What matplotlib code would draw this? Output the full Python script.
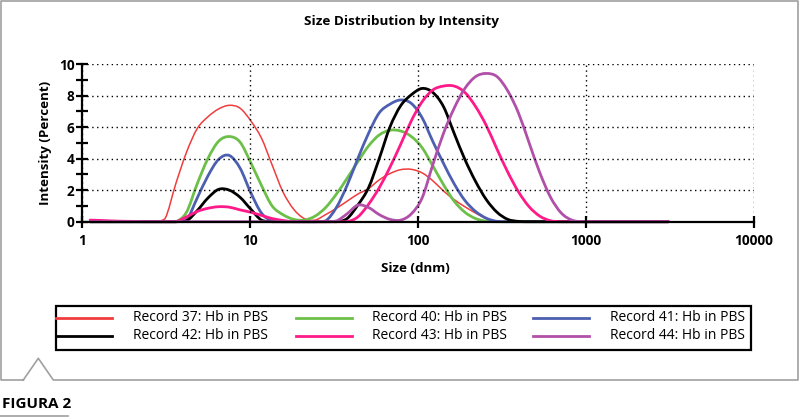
import matplotlib
matplotlib.use("Agg")
import numpy as np
import matplotlib.pyplot as plt
from matplotlib.lines import Line2D
from matplotlib.patches import Rectangle, PathPatch
from matplotlib.path import Path
from matplotlib.ticker import NullLocator, FixedLocator

# Zetasizer size bins shown on the plot (d.nm)
sizes = [1.117, 1.294, 1.499, 1.736, 2.010, 2.328, 2.696, 3.122, 3.615, 4.187,
         4.849, 5.615, 6.503, 7.531, 8.721, 10.10, 11.70, 13.54, 15.69, 18.17,
         21.04, 24.36, 28.21, 32.67, 37.84, 43.82, 50.75, 58.77, 68.06, 78.82,
         91.28, 105.7, 122.4, 141.8, 164.2, 190.1, 220.2, 255.0, 295.3, 342.0,
         396.1, 458.7, 531.2, 615.1, 712.4, 825.0, 955.4, 1106, 1281, 1484,
         1718, 1990, 2305, 2669, 3091]

# intensity (%) per bin
rec37 = [0, 0, 0, 0, 0, 0, 0, 0.2, 2.4, 4.4,
         5.9, 6.65, 7.15, 7.38, 7.2, 6.4, 5.3, 3.6, 1.9, 0.8,
         0.2, 0.1, 0.45, 0.85, 1.3, 1.75, 2.1, 2.65, 3.05, 3.3,
         3.32, 3.1, 2.6, 1.95, 1.4, 0.95, 0.55, 0.2, 0.03, 0,
         0, 0, 0, 0, 0, 0, 0, 0, 0, 0,
         0, 0, 0, 0, 0]
rec40 = [0, 0, 0, 0, 0, 0, 0, 0, 0, 0.6,
         2.4, 4.0, 5.1, 5.4, 5.05, 3.75, 2.3, 1.0, 0.45, 0.15,
         0.1, 0.35, 0.9, 1.75, 2.75, 3.8, 4.8, 5.5, 5.8, 5.75,
         5.4, 4.7, 3.55, 2.35, 1.3, 0.6, 0.2, 0.03, 0, 0,
         0, 0, 0, 0, 0, 0, 0, 0, 0, 0,
         0, 0, 0, 0, 0]
rec41 = [0, 0, 0, 0, 0, 0, 0, 0, 0, 0.1,
         1.5, 2.9, 3.95, 4.2, 3.4, 1.85, 0.55, 0.05, 0, 0,
         0, 0, 0.05, 0.9, 2.3, 4.0, 5.6, 6.9, 7.45, 7.72,
         7.5, 6.6, 5.1, 3.7, 2.4, 1.35, 0.65, 0.22, 0.02, 0,
         0, 0, 0, 0, 0, 0, 0, 0, 0, 0,
         0, 0, 0, 0, 0]
rec42 = [0, 0, 0, 0, 0, 0, 0, 0, 0, 0.05,
         0.7, 1.5, 2.05, 2.0, 1.55, 0.8, 0.1, 0, 0, 0,
         0, 0, 0, 0, 0.2, 1.05, 2.15, 4.0, 6.0, 7.35,
         8.05, 8.45, 8.2, 7.3, 5.6, 3.95, 2.55, 1.4, 0.6, 0.15,
         0.02, 0, 0, 0, 0, 0, 0, 0, 0, 0,
         0, 0, 0, 0, 0]
rec43 = [0.1, 0.08, 0.05, 0.03, 0.02, 0, 0, 0, 0, 0.3,
         0.65, 0.85, 0.95, 0.92, 0.75, 0.6, 0.4, 0.2, 0.08, 0,
         0, 0, 0, 0, 0, 0.3, 1.1, 2.15, 3.45, 4.9,
         6.4, 7.6, 8.35, 8.6, 8.6, 8.2, 7.3, 6.1, 4.6, 3.15,
         1.9, 0.95, 0.35, 0.06, 0, 0, 0, 0, 0, 0,
         0, 0, 0, 0, 0]
rec44 = [0, 0, 0, 0, 0, 0, 0, 0, 0, 0,
         0, 0, 0, 0, 0, 0, 0, 0, 0, 0,
         0, 0, 0, 0.05, 0.5, 1.05, 0.9, 0.45, 0.15, 0.1,
         0.5, 1.5, 3.6, 5.6, 7.2, 8.45, 9.2, 9.4, 9.2, 8.3,
         6.9, 5.0, 3.1, 1.55, 0.55, 0.1, 0, 0, 0, 0,
         0, 0, 0, 0, 0]

labels = ["Record 37: Hb in PBS", "Record 40: Hb in PBS", "Record 41: Hb in PBS",
          "Record 42: Hb in PBS", "Record 43: Hb in PBS", "Record 44: Hb in PBS"]
series = [rec37, rec40, rec41, rec42, rec43, rec44]
colors = ["#f03c3c", "#6cc04a", "#4d5fb0", "#000000", "#ff1a8a", "#b150a8"]
widths = [1.1, 2.0, 2.0, 2.0, 2.0, 2.0]

xticks = [1, 10, 100, 1000, 10000]
xticklabels = ["1", "10", "100", "1000", "10000"]

W, H = 800, 417
BODY = ["Open Sans", "DejaVu Sans"]


def fx(px):
    return px / W


def fy(py):
    return 1 - py / H


def smooth_path(x, y):
    """Cubic (Catmull-Rom) path through the bin values, built in log-x space
    like the instrument software draws it."""
    u = np.log10(x)
    y = np.asarray(y, dtype=float)
    n = len(u)
    verts = [(x[0], y[0])]
    codes = [Path.MOVETO]
    for i in range(n - 1):
        a, b = max(i - 1, 0), min(i + 2, n - 1)
        c1u = u[i] + (u[i + 1] - u[a]) / 6
        c1y = y[i] + (y[i + 1] - y[a]) / 6
        c2u = u[i + 1] - (u[b] - u[i]) / 6
        c2y = y[i + 1] - (y[b] - y[i]) / 6
        verts += [(10 ** c1u, max(c1y, 0)), (10 ** c2u, max(c2y, 0)),
                  (x[i + 1], y[i + 1])]
        codes += [Path.CURVE4] * 3
    return Path(verts, codes)


fig = plt.figure(figsize=(W / 100, H / 100), dpi=100)

# plot area
ax = fig.add_axes([fx(82), fy(221.7), fx(754 - 82), (221.7 - 64) / H])
for s, c, lw in zip(series, colors, widths):
    ax.add_patch(PathPatch(smooth_path(sizes, s), fill=False, ec=c, lw=lw,
                           capstyle="round", joinstyle="round", clip_on=False))

ax.set_xscale("log")
ax.set_xlim(1, 10000)
ax.set_ylim(0, 10)
ax.xaxis.set_major_locator(FixedLocator(xticks))
ax.set_xticklabels(xticklabels)
ax.xaxis.set_minor_locator(NullLocator())
ax.set_yticks(range(0, 11, 2))
ax.yaxis.set_minor_locator(FixedLocator([1, 3, 5, 7, 9]))

ax.grid(True, which="major", color="black", linestyle=(0, (1, 2.5)), lw=1.0)
for side in ["top", "right"]:
    ax.spines[side].set_visible(False)
for side in ["left", "bottom"]:
    ax.spines[side].set_linewidth(1.6)
ax.tick_params(which="both", direction="inout", length=9, width=1.6, pad=1)
ax.tick_params(axis="x", pad=4)
for t in ax.get_xticklabels() + ax.get_yticklabels():
    t.set_fontfamily(BODY)
    t.set_fontweight("bold")
    t.set_fontsize(9.8)

fig.text(fx(415), fy(268), "Size (dnm)", ha="center", va="center",
         family=BODY, weight="bold", fontsize=9.6)
fig.text(fx(45), fy(143), "Intensity (Percent)", ha="center", va="center",
         rotation=90, family=BODY, weight="bold", fontsize=9.6)
fig.text(fx(401), fy(22), "Size Distribution by Intensity", ha="center",
         va="center", family=BODY, weight="bold", fontsize=9.7)

# legend box, drawn by hand to match the layout
fig.add_artist(Rectangle((fx(56), fy(350.3)), fx(750.7 - 56), (350.3 - 305.7) / H,
                         transform=fig.transFigure, fill=False, ec="black", lw=1.6))
col_x = [56, 295.7, 533.3]
row_y = [317.7, 335.7]
for i, (lab, c) in enumerate(zip(labels, colors)):
    x0 = col_x[i % 3]
    y0 = row_y[i // 3]
    fig.add_artist(Line2D([fx(x0), fx(x0 + 56)], [fy(y0), fy(y0)],
                          transform=fig.transFigure, color=c, lw=2.0))
    fig.text(fx(x0 + 76.7), fy(y0), lab, ha="left", va="center",
             family=BODY, fontsize=10)

# gray frame with notch
fx_pts = [23.3, 1, 1, 798, 798, 53.3, 38.3, 23.3]
fy_pts = [380, 380, 1, 1, 380, 380, 358.3, 380]
fig.add_artist(Line2D([fx(v) for v in fx_pts], [fy(v) for v in fy_pts],
                      transform=fig.transFigure, color="#a0a0a0", lw=1.2))

fig.text(fx(1.5), fy(403.5), "FIGURA 2", ha="left", va="center",
         family=BODY, weight="bold", fontsize=11)
fig.add_artist(Line2D([0, fx(68)], [fy(415.5), fy(415.5)],
                      transform=fig.transFigure, color="#a0a0a0", lw=1.2))

fig.savefig("out.png", dpi=100)
